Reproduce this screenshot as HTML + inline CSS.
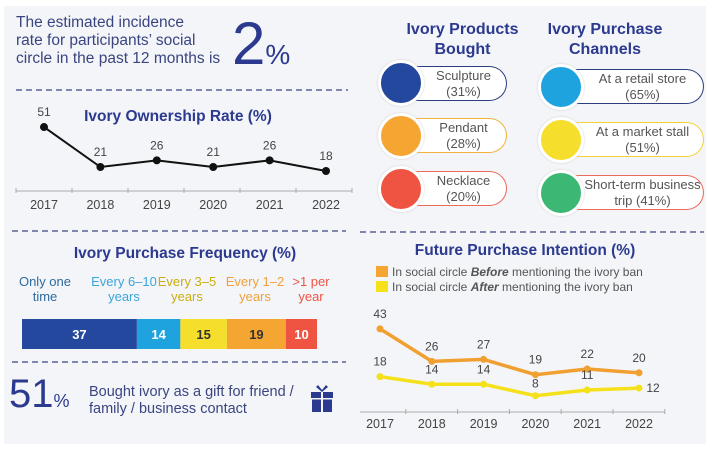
<!DOCTYPE html>
<html><head><meta charset="utf-8"><style>
body{margin:0;width:710px;height:449px;background:#fff;font-family:"Liberation Sans",sans-serif;overflow:hidden;position:relative}
.abs{position:absolute}
.pill{position:absolute;box-sizing:border-box;border:1.5px solid;border-left:none;border-radius:0 18px 18px 0;background:#fff;color:#555;font-size:13px;text-align:center;line-height:16px;display:flex;align-items:center;justify-content:center;padding-left:20px}
.circ{position:absolute;border-radius:50%;border:3px solid #fff;box-shadow:0 0 2px #ccc;box-sizing:border-box}
.ttl{color:#2b3a8f;font-weight:bold;font-size:16px;text-align:center;position:absolute}
</style></head><body>
<div class="abs" style="left:4px;top:6px;width:702px;height:438px;background:#f4f5f8"></div>
<div class="abs" style="left:16px;top:14px;font-size:15.5px;line-height:18px;color:#3a4580">The estimated incidence<br>rate for participants’ social<br>circle in the past 12 months is</div>
<div class="abs" style="left:232px;top:14px;color:#2b3a8f;font-size:60px;line-height:60px">2<span style="font-size:28px">%</span></div>

<svg class="abs" style="left:0;top:0" width="710" height="449">
<g stroke="#3a4580" stroke-dasharray="6,4" stroke-width="1.3">
<line x1="16" y1="90" x2="348" y2="90"/>
<line x1="12" y1="231" x2="346" y2="231"/>
<line x1="12" y1="362" x2="346" y2="362"/>
<line x1="360" y1="232" x2="704" y2="232"/>
</g>
<g id="own"></g>
<g id="fut"></g>
<g id="freq"></g>
</svg>

<div class="ttl" style="left:78px;top:108px;width:200px;font-size:15.5px">Ivory Ownership Rate (%)</div>

<div class="ttl" style="left:390px;top:20px;width:145px;line-height:20px">Ivory Products<br>Bought</div>
<div class="ttl" style="left:535px;top:20px;width:140px;line-height:20px">Ivory Purchase<br>Channels</div>

<div class="pill" style="left:401px;top:66px;width:106px;height:35px;border-color:#2e3d7e">Sculpture<br>(31%)</div>
<div class="circ" style="left:378px;top:60px;width:46px;height:46px;background:#24489e"></div>
<div class="pill" style="left:401px;top:118px;width:106px;height:35px;border-color:#f2b23a">Pendant<br>(28%)</div>
<div class="circ" style="left:378px;top:113px;width:46px;height:46px;background:#f5a531"></div>
<div class="pill" style="left:401px;top:171px;width:106px;height:35px;border-color:#eb6a5a">Necklace<br>(20%)</div>
<div class="circ" style="left:378px;top:166px;width:46px;height:46px;background:#ef5443"></div>

<div class="pill" style="left:562px;top:69px;width:142px;height:35px;border-color:#2e3d7e">At a retail store<br>(65%)</div>
<div class="circ" style="left:538px;top:64px;width:46px;height:46px;background:#1ea3df"></div>
<div class="pill" style="left:562px;top:122px;width:142px;height:35px;border-color:#f2d23a">At a market stall<br>(51%)</div>
<div class="circ" style="left:538px;top:117px;width:46px;height:46px;background:#f5de2c"></div>
<div class="pill" style="left:562px;top:175px;width:142px;height:35px;border-color:#eb6a5a">Short-term business<br>trip (41%)</div>
<div class="circ" style="left:538px;top:170px;width:46px;height:46px;background:#3db874"></div>

<div class="ttl" style="left:40px;top:245px;width:290px;font-size:15.5px">Ivory Purchase Frequency (%)</div>
<div class="abs" id="freqlabels" style="left:0;top:274px;font-size:13px;line-height:15px"></div>

<div class="abs" style="left:9px;top:372px;color:#2b3a8f;font-size:40px;line-height:44px">51<span style="font-size:18px">%</span></div>
<div class="abs" style="left:89px;top:384px;color:#3a4580;font-size:14.5px;line-height:17px">Bought ivory as a gift for friend /<br>family / business contact</div>
<svg class="abs" style="left:310px;top:384px" width="24" height="30"><rect x="1" y="8" width="22" height="6" fill="#2b3a8f"/><rect x="2" y="15" width="20" height="13" fill="#2b3a8f"/><rect x="11" y="8" width="2" height="20" fill="#f4f5f8"/><rect x="2" y="14" width="20" height="1.5" fill="#f4f5f8"/><path d="M12 8 L6 3 L8 1 L12 6 L16 1 L18 3 Z" fill="#2b3a8f"/></svg>

<div class="ttl" style="left:380px;top:242px;width:290px;font-size:15.5px">Future Purchase Intention (%)</div>
<div class="abs" style="left:376px;top:265px;font-size:12px;color:#555"><span style="display:inline-block;width:12px;height:11px;background:#f5a531;vertical-align:-1px;margin-right:4px"></span>In social circle <b><i>Before</i></b> mentioning the ivory ban</div>
<div class="abs" style="left:376px;top:280px;font-size:12px;color:#555"><span style="display:inline-block;width:12px;height:11px;background:#f5e11b;vertical-align:-1px;margin-right:4px"></span>In social circle <b><i>After</i></b> mentioning the ivory ban</div>

<script>
const years=["2017","2018","2019","2020","2021","2022"];
const ownership=[51,21,26,21,26,18];
const futureBefore=[43,26,27,19,22,20];
const futureAfter=[18,14,14,8,11,12];
const freqCats=["Only one\ntime","Every 6–10\nyears","Every 3–5\nyears","Every 1–2\nyears",">1 per\nyear"];
const freqVals=[37,14,15,19,10];
const freqColors=["#24489e","#1ea3df","#f5de2c","#f5a531","#ef5443"];
const freqLabelColors=["#2c6a9e","#3aa6dc","#c9ae10","#f0a03c","#ef5443"];
const freqTextColors=["#fff","#fff","#333","#333","#fff"];
const NS="http://www.w3.org/2000/svg";
function mk(p,t,a){const e=document.createElementNS(NS,t);for(const k in a)e.setAttribute(k,a[k]);p.appendChild(e);return e;}
const own=document.getElementById('own');
const ox=i=>44+i*56.4, oy=v=>195-1.333*v;
mk(own,'line',{x1:16,y1:191,x2:352,y2:191,stroke:'#aaa'});
for(let i=0;i<=6;i++)mk(own,'line',{x1:16+i*56,y1:188,x2:16+i*56,y2:193,stroke:'#aaa'});
let pts=ownership.map((v,i)=>ox(i)+','+oy(v)).join(' ');
let pl=mk(own,'polyline',{points:pts,fill:'none',stroke:'#111','stroke-width':2});

ownership.forEach((v,i)=>{
 const c=mk(own,'circle',{cx:ox(i),cy:oy(v),r:4,fill:'#111'});
 
 const t=mk(own,'text',{x:ox(i),y:oy(v)-11,'text-anchor':'middle','font-size':12,fill:'#444'});t.textContent=v;
 const y=mk(own,'text',{x:ox(i),y:209,'text-anchor':'middle','font-size':12.5,fill:'#444'});y.textContent=years[i];
});
const fut=document.getElementById('fut');
const fx=i=>380+i*51.8, fy=v=>411-1.91*v;
mk(fut,'line',{x1:360,y1:412,x2:665,y2:412,stroke:'#aaa'});
for(let i=1;i<=6;i++)mk(fut,'line',{x1:354+i*51.8,y1:409,x2:354+i*51.8,y2:414,stroke:'#aaa'});
[[futureBefore,'#f0a030','future-before-line'],[futureAfter,'#f5e11b','future-after-line']].forEach(([arr,col,nm],si)=>{
 const p=mk(fut,'polyline',{points:arr.map((v,i)=>fx(i)+','+fy(v)).join(' '),fill:'none',stroke:col,'stroke-width':3.5});
 
 arr.forEach((v,i)=>{
  const c=mk(fut,'circle',{cx:fx(i),cy:fy(v),r:3.5,fill:col});
  
  let tx=fx(i),ty=fy(v)-11;
  if(si==1&&i==5){tx=fx(i)+14;ty=fy(v)+4;}
  if(si==1&&i==3){ty=fy(v)-8;}
  const t=mk(fut,'text',{x:tx,y:ty,'text-anchor':'middle','font-size':12,fill:'#444'});t.textContent=v;
 });
});
years.forEach((y,i)=>{const t=mk(fut,'text',{x:fx(i),y:428,'text-anchor':'middle','font-size':12.5,fill:'#444'});t.textContent=y;});
const fr=document.getElementById('freq');
const total=freqVals.reduce((a,b)=>a+b,0);
const bw=v=>v*295/total;
let x0=22;const lab=document.getElementById('freqlabels');
freqVals.forEach((v,i)=>{
 const r=mk(fr,'rect',{x:x0,y:319,width:bw(v),height:30,fill:freqColors[i]});
 
 const t=mk(fr,'text',{x:x0+bw(v)/2,y:339,'text-anchor':'middle','font-size':13,'font-weight':'bold',fill:freqTextColors[i]});t.textContent=v;
 const d=document.createElement('div');
 
 
 const cx=[45,124,187,255,311][i];
 d.style.cssText='position:absolute;width:90px;text-align:center;white-space:pre;left:'+(cx-45)+'px;color:'+freqLabelColors[i];
 d.textContent=freqCats[i];lab.appendChild(d);
 x0+=bw(v);
});
</script>
</body></html>
